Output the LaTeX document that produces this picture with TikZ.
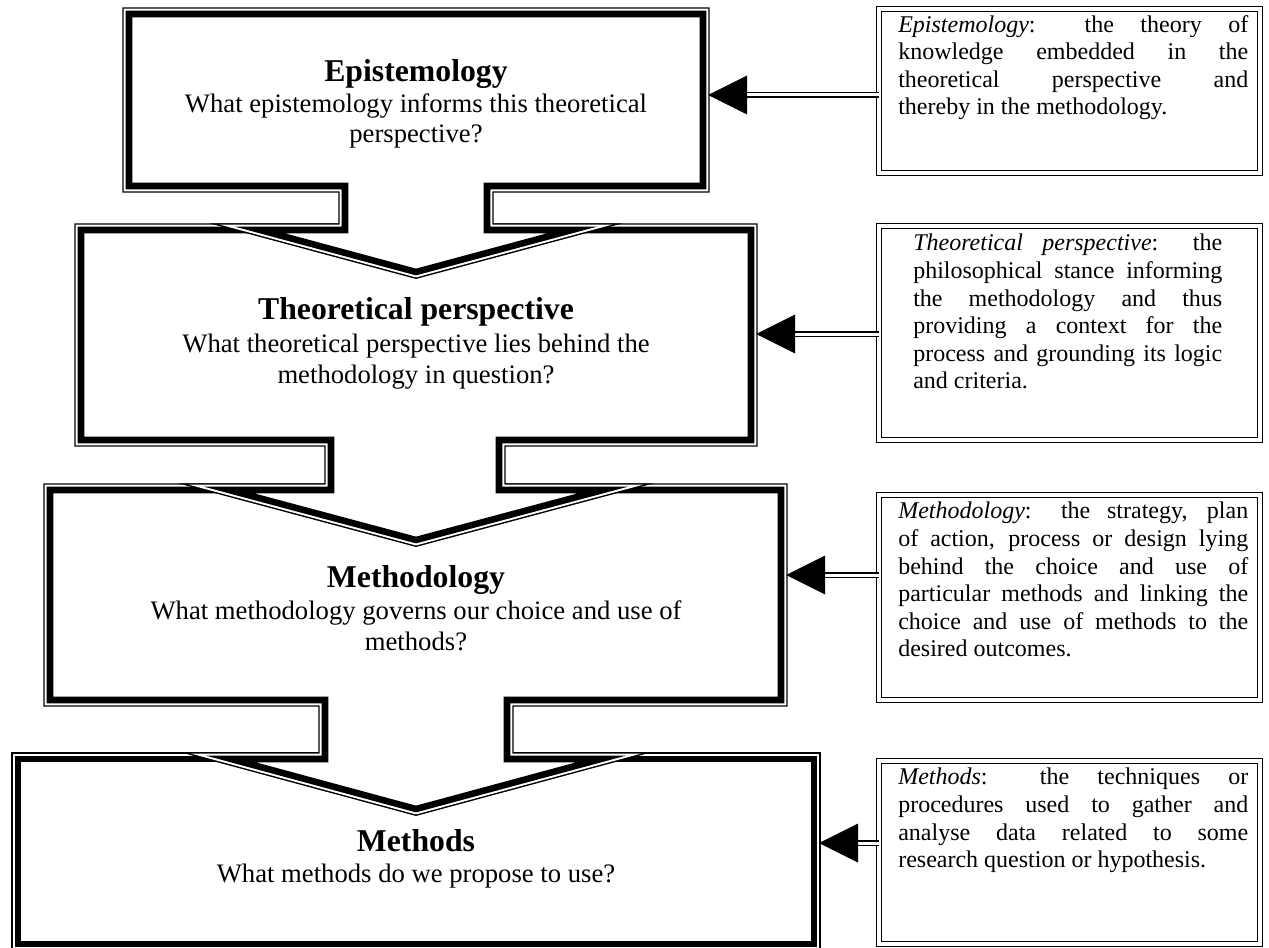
\documentclass[tikz,border=0pt]{standalone}
\usepackage{fontspec}
\setmainfont{Liberation Serif}
\usetikzlibrary{calc}
\begin{document}
\begin{tikzpicture}[x=0.75pt,y=-0.75pt,
  % thick-thin compound outline of the stacked callouts
  callout/.style={preaction={draw=black,line width=10.1pt},
                  preaction={draw=white,line width=7.9pt},
                  preaction={fill=white},
                  draw=black,line width=4.9pt,miter limit=12},
  notebox/.style={draw,double,line width=1.2pt,double distance=2.4pt,
                  inner sep=0pt,outer sep=0pt,anchor=north west},
  shaft/.style={draw,double,line width=1.25pt,double distance=2.25pt},
  titletext/.style={font=\fontsize{23.8}{28}\selectfont\bfseries,inner sep=0pt,anchor=base},
  asktext/.style={font=\fontsize{20}{23.8}\selectfont,inner sep=0pt,anchor=base},
  notetext/.style={font=\fontsize{18}{20.7}\selectfont,inner sep=0pt,anchor=north west,align=left}
]
\useasboundingbox (0,0) rectangle (1269,948);

% ---- stacked callouts, lowest first so each arrow sits on the box below
\path[callout] (18,759) rectangle (814,944);
\path[callout] (50,490) -- (781,490) -- (781,700) -- (507,700) -- (507,759)
   -- (601,759) -- (416,809) -- (231,759) -- (325,759) -- (325,700) -- (50,700) -- cycle;
\path[callout] (81,230) -- (751,230) -- (751,440) -- (499,440) -- (499,490)
   -- (603,490) -- (416,540) -- (229,490) -- (331,490) -- (331,440) -- (81,440) -- cycle;
\path[callout] (129,14) -- (703,14) -- (703,186) -- (487,186) -- (487,230)
   -- (572,230) -- (416,272) -- (260,230) -- (345,230) -- (345,186) -- (129,186) -- cycle;

% ---- callout texts
\node[titletext] (epiT) at (416,82) {Epistemology};
\node[asktext] (epiA) at (416,113) {What epistemology informs this theoretical};
\node[asktext] (epiB) at (416,143) {perspective?};

\node[titletext] (thT) at (416,320) {Theoretical perspective};
\node[asktext] (thA) at (416,352) {What theoretical perspective lies behind the};
\node[asktext] (thB) at (416,383) {methodology in question?};

\node[titletext] (mlT) at (416,587) {Methodology};
\node[asktext] (mlA) at (416,619) {What methodology governs our choice and use of};
\node[asktext] (mlB) at (416,650) {methods?};

\node[titletext] (mtT) at (416,851) {Methods};
\node[asktext] (mtA) at (416,882) {What methods do we propose to use?};

% ---- definition boxes
\node[notebox,minimum width=285.75pt,minimum height=123pt] (n1) at (879,9) {};
\node[notebox,minimum width=285.75pt,minimum height=160.5pt] (n2) at (879,226) {};
\node[notebox,minimum width=285.75pt,minimum height=153.75pt] (n3) at (879,495) {};
\node[notebox,minimum width=285.75pt,minimum height=137.25pt] (n4) at (879,761) {};

\node[notetext] (n1t) at (898,15) {%
\makebox[262.5pt][s]{\textit{Epistemology}: the theory of}\\
\makebox[262.5pt][s]{knowledge embedded in the}\\
\makebox[262.5pt][s]{theoretical perspective and}\\
thereby in the methodology.};

\node[notetext] (n2t) at (913,234) {%
\makebox[231.75pt][s]{\textit{Theoretical perspective}: the}\\
\makebox[231.75pt][s]{philosophical stance informing}\\
\makebox[231.75pt][s]{the methodology and thus}\\
\makebox[231.75pt][s]{providing a context for the}\\
\makebox[231.75pt][s]{process and grounding its logic}\\
and criteria.};

\node[notetext] (n3t) at (898,502) {%
\makebox[262.5pt][s]{\textit{Methodology}: the strategy, plan}\\
\makebox[262.5pt][s]{of action, process or design lying}\\
\makebox[262.5pt][s]{behind the choice and use of}\\
\makebox[262.5pt][s]{particular methods and linking the}\\
\makebox[262.5pt][s]{choice and use of methods to the}\\
desired outcomes.};

\node[notetext] (n4t) at (898,768) {%
\makebox[262.5pt][s]{\textit{Methods}: the techniques or}\\
\makebox[262.5pt][s]{procedures used to gather and}\\
\makebox[262.5pt][s]{analyse data related to some}\\
research question or hypothesis.};

% ---- arrows from the definitions to the callouts
\coordinate (a1) at (708,95);
\coordinate (a2) at (756,334);
\coordinate (a3) at (786,575);
\coordinate (a4) at (819,843);
\foreach \i in {1,2,3,4}{
  \draw[shaft] (n\i.west |- a\i) -- ($(a\i)+(37,0)$);
  \fill (a\i) -- ++(39,-19.5) -- ++(0,39) -- cycle;
}
\end{tikzpicture}
\end{document}
